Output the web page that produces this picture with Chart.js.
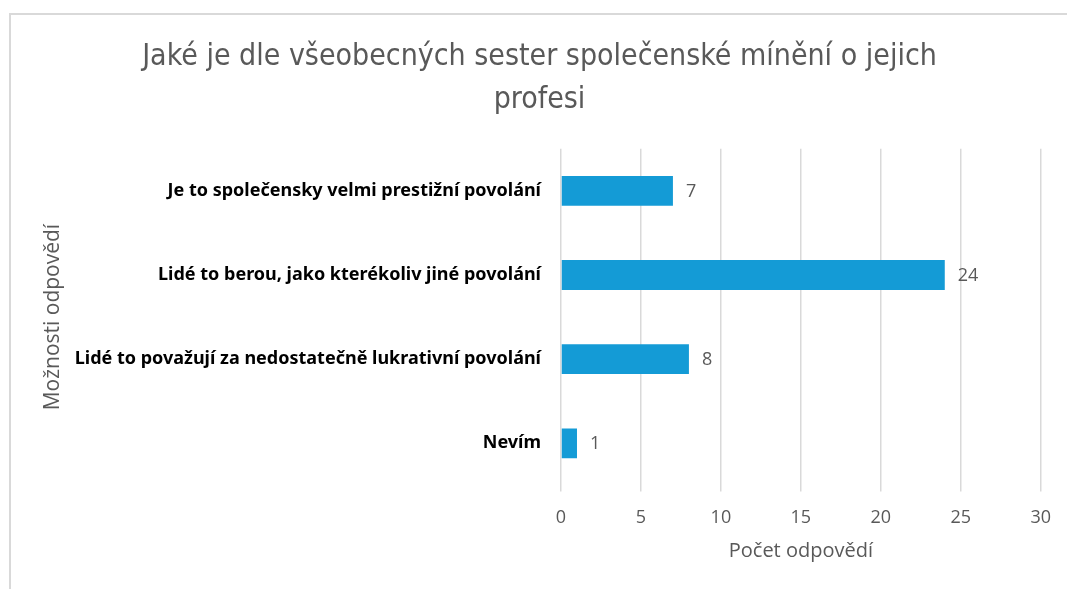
<!DOCTYPE html>
<html>
<head>
<meta charset="utf-8">
<script src="https://cdn.jsdelivr.net/npm/chart.js@4"></script>
<style>
	html, body { margin: 0; padding: 0; background: #fff; }
	#ramecek { position: absolute; left: 9px; top: 13px; right: -5px; bottom: -5px; border-left: 2px solid #d9d9d9; border-top: 2px solid #d9d9d9; }
	#obal { position: absolute; left: 0; top: 0; width: 1067px; height: 589px; }
</style>
</head>
<body>
<div id="ramecek"></div>
<div id="obal"><canvas id="grafNazor"></canvas></div>
<script>
var kategorie = [
	'Je to společensky velmi prestižní povolání',
	'Lidé to berou, jako kterékoliv jiné povolání',
	'Lidé to považují za nedostatečně lukrativní povolání',
	'Nevím'
];
var pocty = [7, 24, 8, 1];
var osaXMin = 0;
var osaXMax = 30;
var osaXKrok = 5;

var popiskyHodnot = {
	id: 'popiskyHodnot',
	afterDatasetsDraw: function(chart) {
		var ctx = chart.ctx;
		var meta = chart.getDatasetMeta(0);
		ctx.save();
		ctx.fillStyle = '#595959';
		ctx.font = '18px "Open Sans", sans-serif';
		ctx.textBaseline = 'middle';
		ctx.textAlign = 'left';
		meta.data.forEach(function(bar, i) {
			ctx.fillText(String(pocty[i]), bar.x + 13, bar.y + 1);
		});
		ctx.restore();
	}
};

var graf = new Chart(document.getElementById('grafNazor').getContext('2d'), {
	type: 'bar',
	data: {
		labels: kategorie,
		datasets: [{
			data: pocty,
			backgroundColor: '#149bd6',
			borderColor: '#149bd6',
			borderWidth: 0,
			barPercentage: 0.71,
			categoryPercentage: 0.5
		}]
	},
	options: {
		indexAxis: 'y',
		responsive: true,
		maintainAspectRatio: false,
		animation: false,
		layout: { padding: { left: 36, right: 24, top: 36, bottom: 26 } },
		plugins: {
			legend: { display: false },
			tooltip: { enabled: false },
			title: {
				display: true,
				text: ['Jaké je dle všeobecných sester společenské mínění o jejich', 'profesi'],
				color: '#595959',
				font: { family: '"DejaVu Sans Condensed", "Liberation Sans Narrow", sans-serif', size: 30, weight: 'normal', lineHeight: 1.43 },
				padding: { top: 0, bottom: 27 }
			}
		},
		scales: {
			x: {
				min: osaXMin,
				max: osaXMax,
				ticks: { stepSize: osaXKrok, color: '#595959', font: { family: '"Open Sans", sans-serif', size: 18 }, padding: 16 },
				grid: { color: '#d9d9d9', lineWidth: 1.5, tickLength: 6 },
				border: { display: false },
				title: { display: true, text: 'Počet odpovědí', color: '#595959', font: { family: '"Open Sans", sans-serif', size: 20 }, padding: { top: -6, bottom: 0 } }
			},
			y: {
				ticks: { color: '#000', font: { family: '"Noto Sans", sans-serif', size: 18, weight: 'bold' }, padding: 12 },
				grid: { display: false },
				border: { display: false },
				title: { display: true, text: 'Možnosti odpovědí', color: '#595959', font: { family: '"Open Sans", sans-serif', size: 21 } },
				afterFit: function(scale) { scale.width = 561 - 36; }
			}
		}
	},
	plugins: [popiskyHodnot]
});
</script>
</body>
</html>
